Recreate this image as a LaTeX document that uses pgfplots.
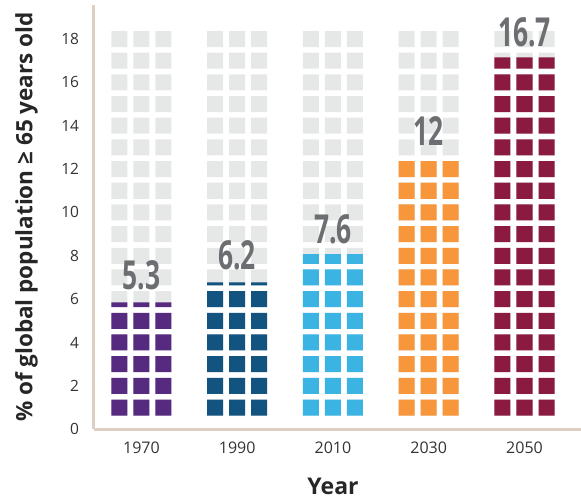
\documentclass[border=0pt]{standalone}
\usepackage{pgfplots}
\pgfplotsset{compat=1.18}
\usepackage{fontspec}
\setmainfont{Open Sans}
\newfontfamily\valfont[FakeStretch=0.66]{Open Sans}

\definecolor{tilegray}{HTML}{E6E8E8}
\definecolor{c1970}{HTML}{552A7F}
\definecolor{c1990}{HTML}{13537F}
\definecolor{c2010}{HTML}{3BB4E4}
\definecolor{c2030}{HTML}{F7963A}
\definecolor{c2050}{HTML}{8B1A40}
\definecolor{axisbeige}{HTML}{DCCFC3}
\definecolor{valgray}{HTML}{6D6E71}
\definecolor{tickcol}{HTML}{333333}

% rounded tile, anchored at its bottom edge (16pt x 16pt)
\pgfdeclareplotmark{tile}{%
  \pgfsetcornersarced{\pgfpoint{2.8pt}{2.8pt}}%
  \pgfpathmoveto{\pgfpoint{0pt}{0pt}}%
  \pgfpathlineto{\pgfpoint{8pt}{0pt}}%
  \pgfpathlineto{\pgfpoint{8pt}{16pt}}%
  \pgfpathlineto{\pgfpoint{-8pt}{16pt}}%
  \pgfpathlineto{\pgfpoint{-8pt}{0pt}}%
  \pgfpathclose
  \pgfusepathqfill}

\def\colstep{0.2298} % sub-column pitch (x units)
\def\tilehalf{0.369} % half tile height (y units)

\begin{document}
\begin{tikzpicture}
\begin{axis}[
  x=95.75pt, y=21.67pt,
  xmin=-0.5, xmax=4.59, ymin=0, ymax=19.57,
  axis lines=left,
  axis line style={draw=axisbeige, line width=3pt, -},
  major tick length=0pt,
  xtick={0,...,4},
  xticklabels={1970,1990,2010,2030,2050},
  ytick={0,2,...,18},
  /pgf/number format/assume math mode=true,
  xticklabel style={font=\fontsize{16}{18}\selectfont, text=tickcol, yshift=-9pt},
  yticklabel style={font=\fontsize{15.5}{18}\selectfont, text=tickcol, xshift=-11pt},
  xlabel={Year},
  ylabel={\% of global population ≥ 65 years old},
  xlabel style={font=\fontsize{23}{26}\bfseries, text=black!85,
    at={(axis description cs:0.4914,-0.1344)}, anchor=center},
  ylabel style={font=\fontsize{22.5}{25}\bfseries, text=black!85,
    at={(axis description cs:-0.1375,0.5)}, anchor=center},
  clip=false,
]
% background grid of gray tiles
\def\graycoords{}
\foreach \i in {0,...,4}{
  \foreach \k in {1,...,18}{
    \foreach \j in {-1,0,1}{
      \pgfmathsetmacro\xx{\i+\j*\colstep}
      \pgfmathsetmacro\yy{\k-\tilehalf}
      \xdef\graycoords{\graycoords (\xx,\yy)}
    }
  }
}
\edef\temp{\noexpand\addplot[only marks, mark=tile, color=tilegray] coordinates {\graycoords};}
\temp

% coloured tiles: full rows, then the fraction of the next row
\foreach \i/\v/\col in {0/5.3/c1970, 1/6.2/c1990, 2/7.6/c2010, 3/12/c2030, 4/16.7/c2050}{
  \pgfmathtruncatemacro\n{floor(\v)}
  \pgfmathsetmacro\fr{\v-\n}
  \gdef\fullcoords{}
  \foreach \k in {1,...,\n}{
    \foreach \j in {-1,0,1}{
      \pgfmathsetmacro\xx{\i+\j*\colstep}
      \pgfmathsetmacro\yy{\k-\tilehalf}
      \xdef\fullcoords{\fullcoords (\xx,\yy)}
    }
  }
  \edef\temp{\noexpand\addplot[only marks, mark=tile, color=\col] coordinates {\fullcoords};}
  \temp
  \pgfmathparse{\fr>0.01 ? 1 : 0}
  \ifnum\pgfmathresult>0
    \gdef\partcoords{}
    \foreach \j in {-1,0,1}{
      \pgfmathsetmacro\xx{\i+\j*\colstep}
      \pgfmathsetmacro\yy{\n+1-\tilehalf}
      \xdef\partcoords{\partcoords (\xx,\yy)}
    }
    \edef\temp{\noexpand\addplot[only marks, mark=tile, color=\col, mark options={yscale=\fr}] coordinates {\partcoords};}
    \temp
  \fi
}

% value labels
\addplot[draw=none, nodes near coords, point meta=explicit symbolic,
  every node near coord/.append style={anchor=center, text=valgray,
    font=\valfont\bfseries\fontsize{40}{41}\selectfont}]
  coordinates {(0,7.08) [5.3] (1,8.03) [6.2] (2,9.23) [7.6] (3,13.75) [12] (4,18.3) [16.7]};
\end{axis}
\pgfresetboundingbox
\path ([xshift=-93.5pt,yshift=-70pt]current axis.south west) rectangle ([yshift=5pt]current axis.north east);
\end{tikzpicture}
\end{document}
